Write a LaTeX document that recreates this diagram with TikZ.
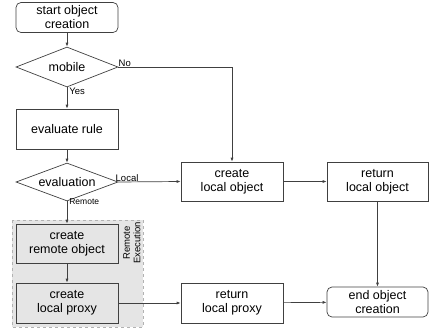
\documentclass[tikz,border=0pt]{standalone}
\usepackage{fontspec}
\setmainfont{Liberation Sans}
\usetikzlibrary{arrows.meta,shapes.geometric}

\tikzset{
  box/.style={draw, rectangle, minimum width=102pt, minimum height=40pt, inner sep=1pt,
              align=center, font=\fontsize{12.5}{14}\selectfont},
  termbox/.style={box, rounded corners=5pt, minimum height=30pt},
  decide/.style={draw, diamond, aspect=2.5, inner sep=0pt, minimum width=102pt,
                 minimum height=40pt, font=\fontsize{12.5}{14}\selectfont},
  lbl/.style={inner sep=0pt, font=\fontsize{9.5}{10.5}\selectfont},
  flow/.style={-{Latex[length=4pt,width=3pt]}},
}

\begin{document}
\begin{tikzpicture}[x=1pt, y=-1pt, line width=0.7pt, draw=black!75]

  % ── 灰色区域：远程执行 ──
  \path[fill=black!10, draw=black!30, dashed, line width=0.5pt] (12,220) rectangle (143,327);
  \node[lbl, rotate=90, align=center] (remexec) at (132,243) {Remote\\Execution};

  % ── 左列：开始 / 判断 / 远程 ──
  \node[termbox] (start) at (67,17.5) {start object\\creation};
  \node[decide] (mobile) at (67,67) {mobile};
  \node[box] (evalrule) at (67,129) {evaluate rule};
  \node[decide, minimum height=38pt] (evaluation) at (67,182) {evaluation};
  \node[box, fill=black!10, minimum height=39pt] (remobj) at (67,243.5) {create\\remote object};
  \node[box, fill=black!10] (locproxy) at (67,303) {create\\local proxy};

  % ── 中列、右列 ──
  \node[box, minimum height=39pt] (locobj) at (232,181.5) {create\\local object};
  \node[box, minimum height=39pt, minimum width=101pt] (retobj) at (377.5,181.5) {return\\local object};
  \node[box] (retproxy) at (232,303) {return\\local proxy};
  \node[termbox, minimum width=101pt] (finish) at (377.5,302) {end object\\creation};

  % ── 连线 ──
  \draw[flow] (start) -- (mobile);
  \draw[flow] (mobile) -- (evalrule);
  \draw[flow] (evalrule) -- (evaluation);
  \draw[flow] (evaluation) -- (remobj);
  \draw[flow] (remobj) -- (locproxy);
  \draw[flow] (mobile.east) -| (locobj.north);
  \draw[flow] (evaluation.east) -- (locobj.west);
  \draw[flow] (locobj) -- (retobj);
  \draw[flow] (retobj) -- (finish);
  \draw[flow] (locproxy) -- (retproxy);
  \draw[flow] (retproxy) -- (finish);

  % ── 分支标签 ──
  \node[lbl, anchor=south west] (no) at (mobile.east) {No};
  \node[lbl, anchor=north west] (yes) at ([xshift=2pt]mobile.south) {Yes};
  \node[lbl, anchor=south west] (local) at ([xshift=-3pt]evaluation.east) {Local};
  \node[lbl, anchor=north west, font=\fontsize{8.5}{9.5}\selectfont] (remote) at ([xshift=2pt,yshift=3pt]evaluation.south) {Remote};

  % 画布
  \path[use as bounding box] (0,0) rectangle (432,330);
\end{tikzpicture}
\end{document}
